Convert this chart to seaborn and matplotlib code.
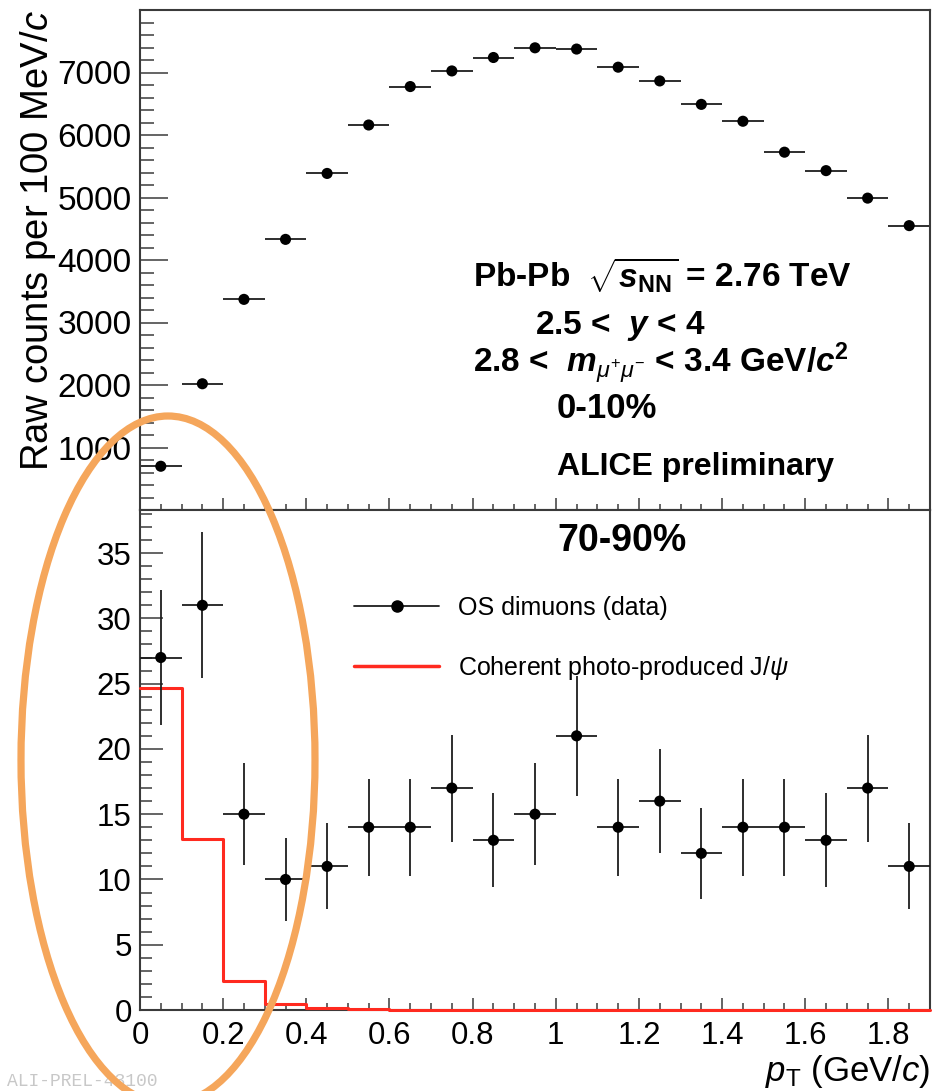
import numpy as np
import matplotlib
matplotlib.use("Agg")
import matplotlib.pyplot as plt
import seaborn as sns
from matplotlib.lines import Line2D
from matplotlib.patches import Ellipse
from matplotlib.ticker import MultipleLocator, FixedLocator, FuncFormatter

# ---------------- data ----------------
bin_edges = [0.0, 0.1, 0.2, 0.3, 0.4, 0.5, 0.6, 0.7, 0.8, 0.9, 1.0,
             1.1, 1.2, 1.3, 1.4, 1.5, 1.6, 1.7, 1.8, 1.9]
pt_centers = [0.05, 0.15, 0.25, 0.35, 0.45, 0.55, 0.65, 0.75, 0.85, 0.95,
              1.05, 1.15, 1.25, 1.35, 1.45, 1.55, 1.65, 1.75, 1.85]
central_counts = [700, 2020, 3370, 4330, 5385, 6160, 6775, 7025, 7240, 7395,
                  7375, 7085, 6865, 6490, 6220, 5725, 5430, 4990, 4550]
peripheral_counts = [27, 31, 15, 10, 11, 14, 14, 17, 13, 15,
                     21, 14, 16, 12, 14, 14, 13, 17, 11]
peripheral_errors = [5.2, 5.6, 3.9, 3.2, 3.3, 3.7, 3.7, 4.1, 3.6, 3.9,
                     4.6, 3.7, 4.0, 3.5, 3.7, 3.7, 3.6, 4.1, 3.3]
coherent_jpsi = [24.7, 13.1, 2.2, 0.48, 0.13, 0.04, 0.02, 0.01, 0.0, 0.0,
                 0.0, 0.0, 0.0, 0.0, 0.0, 0.0, 0.0, 0.0, 0.0]
top_yticks = [1000, 2000, 3000, 4000, 5000, 6000, 7000]
bottom_yticks = [0, 5, 10, 15, 20, 25, 30, 35]
xticks = [0, 0.2, 0.4, 0.6, 0.8, 1.0, 1.2, 1.4, 1.6, 1.8]

# ---------------- style ----------------
sns.set_theme(style="ticks")
plt.rcParams['font.family'] = ['Liberation Sans', 'DejaVu Sans']
plt.rcParams['text.color'] = 'black'
plt.rcParams['axes.labelcolor'] = 'black'
plt.rcParams['xtick.color'] = 'black'
plt.rcParams['ytick.color'] = 'black'
plt.rcParams['legend.labelcolor'] = 'black'
plt.rcParams['mathtext.fontset'] = 'custom'
plt.rcParams['mathtext.rm'] = 'Liberation Sans'
plt.rcParams['mathtext.it'] = 'Liberation Sans:italic'
plt.rcParams['mathtext.bf'] = 'Liberation Sans:bold:italic'
plt.rcParams['mathtext.sf'] = 'Liberation Sans:bold'

W, H = 933, 1091
fig = plt.figure(figsize=(W / 100, H / 100), dpi=100)
fig.patch.set_facecolor('white')

L, R = 140, 930
ax1 = fig.add_axes([L / W, 1 - 510 / H, (R - L) / W, 500 / H])
ax2 = fig.add_axes([L / W, 1 - 1010 / H, (R - L) / W, 500 / H])

edges = np.array(bin_edges)
half_w = (edges[1:] - edges[:-1]) / 2
frame_col = '#3a3a3a'
bar_col = '#1e1e1e'
red = '#ff2a1f'

for ax in (ax1, ax2):
    for s in ax.spines.values():
        s.set_color(frame_col)
        s.set_linewidth(1.5)
    ax.set_facecolor('white')

# ---------------- top panel ----------------
ax1.errorbar(pt_centers, central_counts, xerr=half_w, fmt='none',
             ecolor=bar_col, elinewidth=1.3, capsize=0, zorder=2)
sns.scatterplot(x=pt_centers, y=central_counts, ax=ax1, color='black',
                s=64, edgecolor='none', zorder=3, legend=False)
ax1.set_xlim(0, 1.9)
ax1.set_ylim(0, 8000)
ax1.yaxis.set_major_locator(FixedLocator(top_yticks))
ax1.yaxis.set_minor_locator(MultipleLocator(200))
ax1.xaxis.set_major_locator(FixedLocator(xticks))
ax1.xaxis.set_minor_locator(MultipleLocator(0.05))
ax1.tick_params(axis='y', which='major', direction='in', length=20, width=1.1,
                color=frame_col, labelcolor='black', labelsize=24, pad=6)
ax1.tick_params(axis='y', which='minor', direction='in', length=10, width=1.1,
                color=frame_col)
ax1.tick_params(axis='x', which='major', direction='in', length=9, width=1.1,
                color=frame_col, labelbottom=False)
ax1.tick_params(axis='x', which='minor', direction='in', length=4.5, width=1.1,
                color=frame_col)
ax1.set_xlabel('')
ax1.set_ylabel('Raw counts per 100 MeV/$c$', fontsize=27.5, loc='top', color='black')
ax1.yaxis.set_label_coords(-0.104, 1.0)

# annotations
txt_kw = dict(fontweight='bold', color='black', ha='left', va='center')
fig.text(473 / W, 1 - 275 / H, r'Pb-Pb  $\sqrt{\mathbf{s}_{\mathsf{NN}}}$ = 2.76 TeV',
         fontsize=24, **txt_kw)
fig.text(535 / W, 1 - 326 / H, r'2.5 <  $\mathbf{y}$ < 4', fontsize=24, **txt_kw)
fig.text(473 / W, 1 - 363 / H,
         r'2.8 <  $\mathbf{m}_{\mu^{+}\mu^{-}}$ < 3.4 GeV/$\mathbf{c}^{\mathsf{2}}$',
         fontsize=24, **txt_kw)
fig.text(557 / W, 1 - 409 / H, '0-10%', fontsize=25, **txt_kw)
fig.text(557 / W, 1 - 467 / H, 'ALICE preliminary', fontsize=23, **txt_kw)

# ---------------- bottom panel ----------------
sns.histplot(x=pt_centers, weights=coherent_jpsi, bins=bin_edges, element='step',
             fill=False, color=red, linewidth=2.2, ax=ax2)
for ln in ax2.lines + list(ax2.collections) + list(ax2.patches):
    ln.set_zorder(3)
    ln.set_clip_on(False)
ax2.errorbar(pt_centers, peripheral_counts, xerr=half_w, yerr=peripheral_errors,
             fmt='none', ecolor=bar_col, elinewidth=1.3, capsize=0, zorder=4)
sns.scatterplot(x=pt_centers, y=peripheral_counts, ax=ax2, color='black',
                s=64, edgecolor='none', zorder=5, legend=False)
ax2.set_xlim(0, 1.9)
ax2.set_ylim(0, 38.3)
ax2.yaxis.set_major_locator(FixedLocator(bottom_yticks))
ax2.yaxis.set_minor_locator(MultipleLocator(1))
ax2.xaxis.set_major_locator(FixedLocator(xticks))
ax2.xaxis.set_minor_locator(MultipleLocator(0.05))
ax2.xaxis.set_major_formatter(FuncFormatter(lambda v, p: f'{v:g}'))
ax2.tick_params(axis='y', which='major', direction='in', length=16.5, width=1.1,
                color=frame_col, labelcolor='black', labelsize=22.5, pad=6)
ax2.tick_params(axis='y', which='minor', direction='in', length=8.5, width=1.1,
                color=frame_col)
ax2.tick_params(axis='x', which='major', direction='in', length=9, width=1.1,
                color=frame_col, labelcolor='black', labelsize=22.5, pad=8)
ax2.tick_params(axis='x', which='minor', direction='in', length=5, width=1.1,
                color=frame_col)
ax2.set_ylabel('')
ax2.set_xlabel(r'$p_{\mathrm{T}}$ (GeV/$c$)', fontsize=25, loc='right', color='black',
               va='center')
ax2.xaxis.set_label_coords(1.0, -0.124)

fig.text(622 / W, 1 - 541 / H, '70-90%', fontsize=27, fontweight='bold',
         ha='center', va='center')

handles = [Line2D([], [], color=bar_col, lw=1.3, marker='o', ms=8,
                  mfc='black', mec='black'),
           Line2D([], [], color=red, lw=2.5)]
labels = ['OS dimuons (data)', r'Coherent photo-produced J/$\psi$']
leg = ax2.legend(handles, labels, frameon=False, fontsize=18, handlelength=3.4,
                 handletextpad=0.75, labelspacing=1.35, loc='upper left',
                 bbox_to_anchor=(354 / W, 1 - 596 / H), bbox_transform=fig.transFigure,
                 borderpad=0, borderaxespad=0)
for t in leg.get_texts():
    t.set_color('black')

# ---------------- overlays ----------------
fig.text(7 / W, 1 - 1081 / H, 'ALI-PREL-43100', color='#c8c8c8', fontsize=13,
         family='Liberation Mono', ha='left', va='center')
ell = Ellipse((168 / W, 1 - 760 / H), width=294 / W, height=688 / H,
              transform=fig.transFigure, fill=False, edgecolor='#f5a65b',
              linewidth=5.2, clip_on=False, zorder=10)
fig.add_artist(ell)

fig.savefig('out.png', dpi=100)
